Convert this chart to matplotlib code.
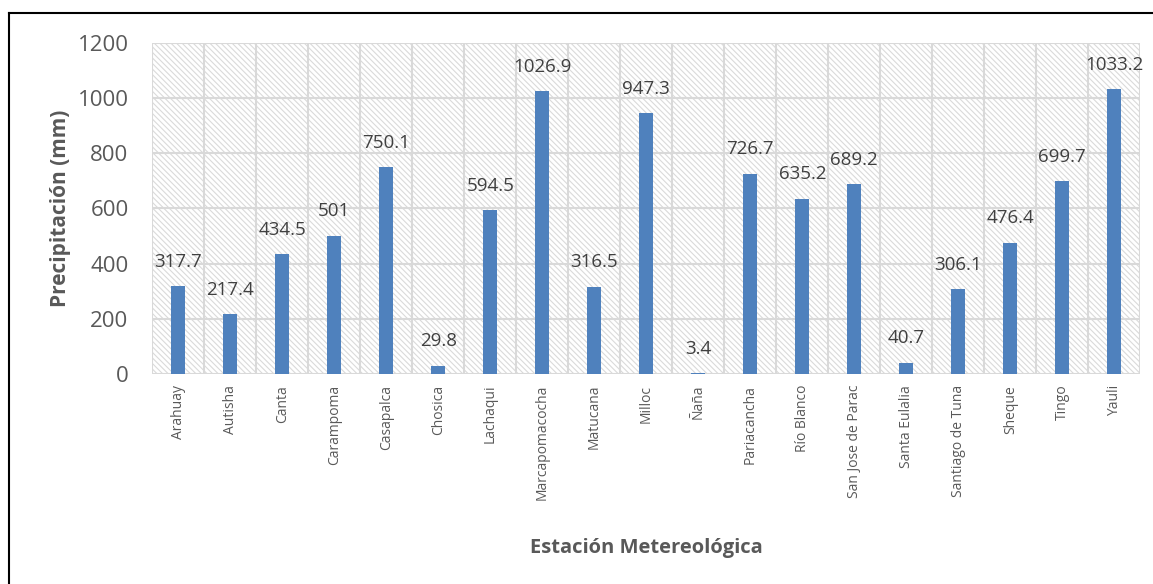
import numpy as np
import matplotlib.pyplot as plt
from matplotlib.lines import Line2D

plt.rcParams['font.family'] = ['Open Sans', 'DejaVu Sans']
plt.rcParams['hatch.linewidth'] = 0.8
plt.rcParams['hatch.color'] = '#dadada'

estaciones = ['Arahuay', 'Autisha', 'Canta', 'Carampoma', 'Casapalca', 'Chosica',
              'Lachaqui', 'Marcapomacocha', 'Matucana', 'Milloc', 'Ñaña',
              'Pariacancha', 'Río Blanco', 'San Jose de Parac', 'Santa Eulalia',
              'Santiago de Tuna', 'Sheque', 'Tingo', 'Yauli']
precip = [317.7, 217.4, 434.5, 501, 750.1, 29.8, 594.5, 1026.9, 316.5, 947.3,
          3.4, 726.7, 635.2, 689.2, 40.7, 306.1, 476.4, 699.7, 1033.2]
yticks = [0, 200, 400, 600, 800, 1000, 1200]

fig = plt.figure(figsize=(11.53, 5.84), dpi=100)
ax = fig.add_axes([0.132, 0.360, 0.857, 0.566])

x = np.arange(len(estaciones))
n = len(estaciones)

# hatched background of the plot area
ax.add_patch(plt.Rectangle((-0.5, 0), n, 1200, facecolor='white',
                           edgecolor='#dadada', hatch=chr(92) * 6, linewidth=0, zorder=0))

ax.bar(x, precip, width=0.27, color='#4f81bd', zorder=3)

for xi, v in zip(x, precip):
    ax.annotate('{:g}'.format(v), (xi, v), xytext=(0, 17.5), textcoords='offset points',
                ha='center', va='center', fontsize=13.5, color='#404040', zorder=4)

ax.set_xlim(-0.5, n - 0.5)
ax.set_ylim(0, 1200)
ax.set_yticks(yticks)
ax.set_xticks(x)
ax.set_xticklabels(estaciones, rotation=90, fontsize=10, color='#595959')
ax.tick_params(axis='y', labelsize=16, colors='#595959', length=0, pad=17)
ax.tick_params(axis='x', length=0, pad=8)

# gridlines: horizontal at ticks, vertical between categories
for y in yticks:
    ax.axhline(y, color='#d9d9d9', linewidth=1.5, zorder=1)
for b in np.arange(-0.5, n, 1):
    ax.axvline(b, color='#d9d9d9', linewidth=1.5, zorder=1)
for s in ax.spines.values():
    s.set_visible(False)

ax.set_ylabel('Precipitación (mm)', fontsize=15, fontweight='bold', color='#595959', labelpad=5)
ax.set_xlabel('Estación Metereológica', fontsize=14.5, fontweight='bold', color='#595959', labelpad=27)

# outer frame (left and top edges)
fig.add_artist(Line2D([9 / 1153, 9 / 1153], [0, 1 - 13 / 584], color='black', linewidth=1.5))
fig.add_artist(Line2D([9 / 1153, 1], [1 - 13 / 584, 1 - 13 / 584], color='black', linewidth=1.5))

plt.savefig('out.png', dpi=100)
